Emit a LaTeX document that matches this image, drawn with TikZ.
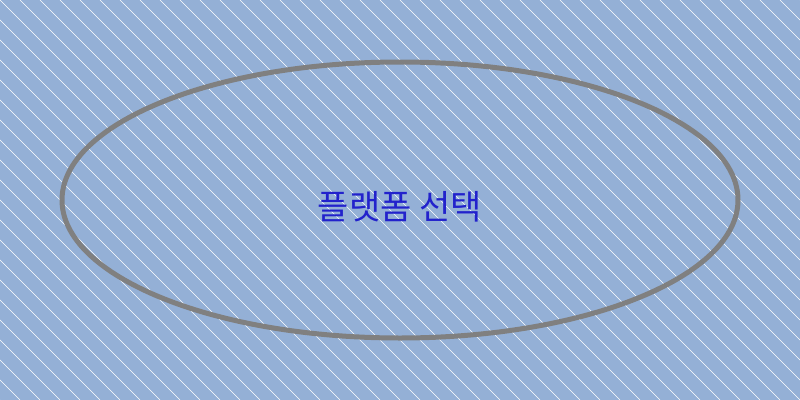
\documentclass[tikz,border=0pt]{standalone}
\usepackage{fontspec}
\newfontfamily\cjk{Noto Sans CJK KR}
\usetikzlibrary{shapes.geometric}
\definecolor{bgblue}{RGB}{148,176,214}
\definecolor{rimgray}{RGB}{128,128,128}
\definecolor{txtblue}{RGB}{34,34,204}
\begin{document}
\begin{tikzpicture}[x=0.75pt,y=-0.75pt]
                \tikzstyle{every node}+=[inner sep=0pt]
                \tikzstyle{rim}=[draw=rimgray, line width=3.75pt, ellipse, minimum width=507pt, minimum height=207pt]
                \tikzstyle{hatch}=[white, line width=0.45pt]
                \fill [bgblue] (0,0) rectangle (800,400);
                \useasboundingbox (0,0) rectangle (800,400);
                \begin{scope}
                \clip (0,0) rectangle (800,400);
                \foreach \c in {-400,-380,...,800}
                    \draw [hatch] (\c,0) -- (\c+400,400);
                \end{scope}
                \node [rim] (platform) at (400,200) {};
                \node [text=txtblue, font=\cjk\fontsize{25.5pt}{30pt}\selectfont] (choice) at (400,207) {플랫폼 선택};
\end{tikzpicture}
\end{document}
